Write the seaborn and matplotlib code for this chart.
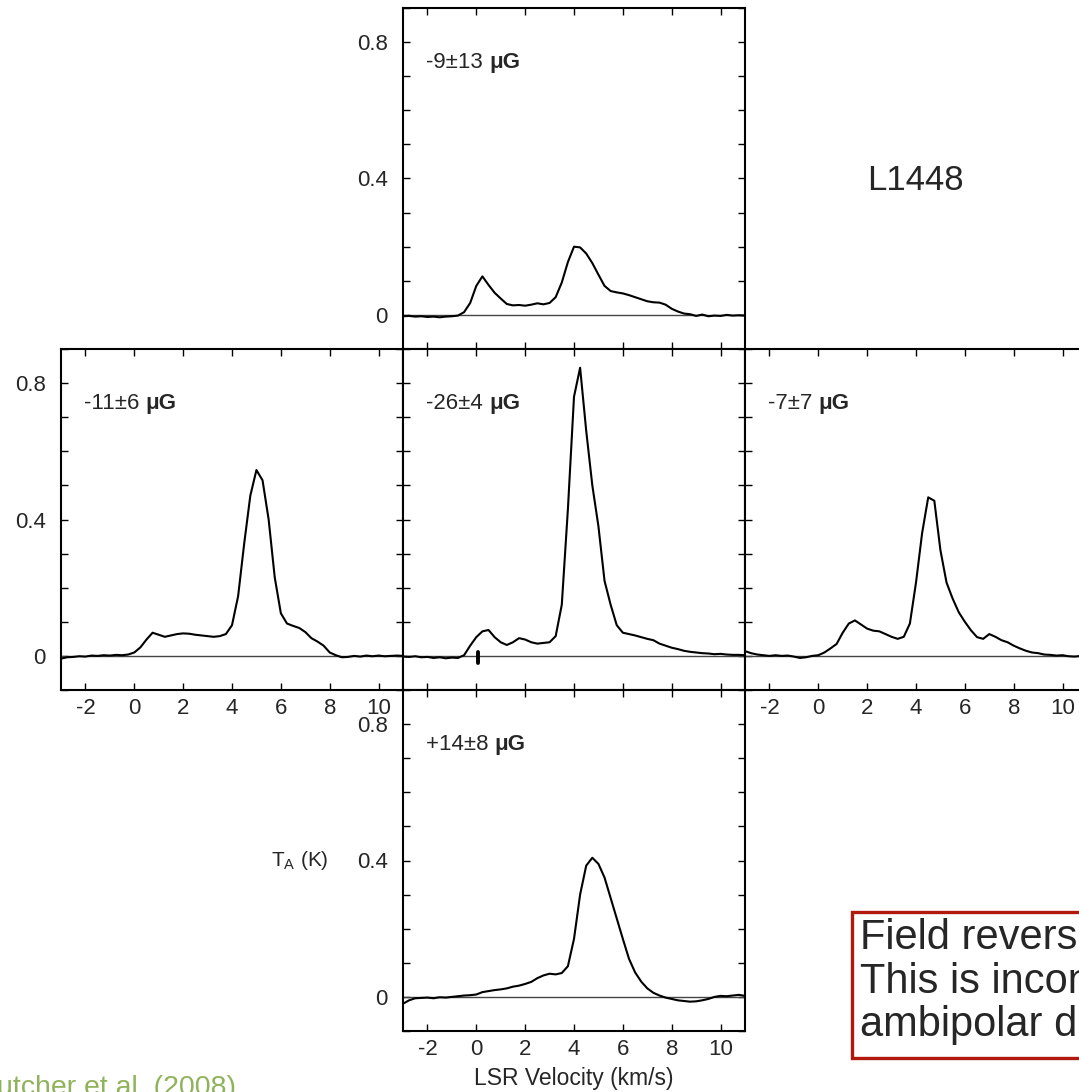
import matplotlib
matplotlib.use("Agg")
import matplotlib.pyplot as plt
from matplotlib.patches import Rectangle
from matplotlib.ticker import MultipleLocator, FixedLocator
import seaborn as sns
import pandas as pd

# ---------------- data ----------------
VELOCITY = [-3.0, -2.75, -2.5, -2.25, -2.0, -1.75, -1.5, -1.25, -1.0, -0.75,
            -0.5, -0.25, 0.0, 0.25, 0.5, 0.75, 1.0, 1.25, 1.5, 1.75,
            2.0, 2.25, 2.5, 2.75, 3.0, 3.25, 3.5, 3.75, 4.0, 4.25,
            4.5, 4.75, 5.0, 5.25, 5.5, 5.75, 6.0, 6.25, 6.5, 6.75,
            7.0, 7.25, 7.5, 7.75, 8.0, 8.25, 8.5, 8.75, 9.0, 9.25,
            9.5, 9.75, 10.0, 10.25, 10.5, 10.75, 11.0]

T_NORTH = [-0.004, -0.003, -0.005, -0.004, -0.006, -0.005, -0.007, -0.005, -0.004, -0.002,
           0.008, 0.035, 0.085, 0.113, 0.088, 0.065, 0.048, 0.032, 0.028, 0.029,
           0.027, 0.030, 0.034, 0.031, 0.035, 0.052, 0.095, 0.155, 0.200, 0.198,
           0.180, 0.152, 0.118, 0.085, 0.070, 0.066, 0.063, 0.058, 0.052, 0.046,
           0.040, 0.037, 0.036, 0.030, 0.018, 0.010, 0.004, 0.002, -0.003, 0.001,
           -0.004, -0.002, -0.003, 0.000, -0.002, -0.001, -0.002]

T_EAST = [-0.008, -0.004, -0.003, -0.001, -0.002, 0.001, 0.000, 0.002, 0.001, 0.003,
          0.002, 0.004, 0.010, 0.025, 0.048, 0.068, 0.062, 0.056, 0.060, 0.064,
          0.066, 0.065, 0.062, 0.060, 0.058, 0.056, 0.058, 0.064, 0.090, 0.175,
          0.330, 0.470, 0.545, 0.515, 0.400, 0.230, 0.125, 0.095, 0.088, 0.082,
          0.070, 0.052, 0.042, 0.030, 0.010, 0.002, -0.004, -0.003, 0.000, -0.002,
          0.001, -0.001, 0.001, -0.001, 0.000, 0.001, 0.000]

T_CENTER = [-0.002, -0.003, -0.001, -0.004, -0.003, -0.006, -0.004, -0.007, -0.005, -0.006,
            0.002, 0.030, 0.055, 0.072, 0.076, 0.055, 0.040, 0.032, 0.040, 0.052,
            0.048, 0.040, 0.036, 0.038, 0.040, 0.058, 0.150, 0.430, 0.760, 0.845,
            0.660, 0.500, 0.380, 0.220, 0.150, 0.090, 0.068, 0.064, 0.060, 0.055,
            0.050, 0.046, 0.036, 0.030, 0.024, 0.020, 0.015, 0.012, 0.010, 0.008,
            0.007, 0.005, 0.006, 0.004, 0.003, 0.003, 0.002]

T_WEST = [0.014, 0.008, 0.004, 0.002, 0.000, 0.002, 0.000, 0.001, -0.002, -0.006,
          -0.004, 0.000, 0.002, 0.010, 0.022, 0.035, 0.068, 0.095, 0.104, 0.092,
          0.080, 0.074, 0.072, 0.064, 0.056, 0.050, 0.056, 0.095, 0.215, 0.360,
          0.465, 0.455, 0.310, 0.215, 0.168, 0.128, 0.100, 0.075, 0.055, 0.050,
          0.064, 0.056, 0.046, 0.040, 0.030, 0.022, 0.015, 0.010, 0.008, 0.004,
          0.003, 0.001, 0.002, -0.001, -0.002, 0.000, -0.001]

T_SOUTH = [-0.020, -0.010, -0.004, -0.003, -0.002, -0.004, -0.001, -0.002, 0.000, 0.002,
           0.004, 0.005, 0.007, 0.014, 0.017, 0.020, 0.022, 0.025, 0.030, 0.033,
           0.038, 0.044, 0.055, 0.063, 0.068, 0.066, 0.070, 0.090, 0.170, 0.300,
           0.385, 0.408, 0.390, 0.350, 0.290, 0.230, 0.170, 0.112, 0.072, 0.045,
           0.025, 0.012, 0.004, -0.002, -0.006, -0.010, -0.012, -0.014, -0.013, -0.010,
           -0.006, 0.000, 0.003, 0.002, 0.004, 0.006, 0.003]

FIELD_VALUE = ["-9\u00b113 ", "-11\u00b16 ", "-26\u00b14 ", "-7\u00b17 ", "+14\u00b18 "]
CENTER_MARK_V = 0.05
CENTER_MARK_T = [-0.022, 0.012]

X_TICKS = [-2, 0, 2, 4, 6, 8, 10]
Y_TICKS = [0, 0.4, 0.8]
Y_TICK_LABELS = ["0", "0.4", "0.8"]

# ---------------- style ----------------
sns.set_style("ticks")
plt.rcParams["font.family"] = ["Liberation Sans", "DejaVu Sans"]
plt.rcParams["axes.unicode_minus"] = False
plt.rcParams["mathtext.fontset"] = "custom"
plt.rcParams["mathtext.rm"] = "Liberation Sans"

W, H = 1079, 1092
fig = plt.figure(figsize=(W / 100, H / 100), dpi=100)
fig.patch.set_facecolor("white")


def add_panel(x0, y0, x1, y1):
    return fig.add_axes([x0 / W, 1 - y1 / H, (x1 - x0) / W, (y1 - y0) / H])


panels = {
    "north": add_panel(403, 8, 745, 349),
    "east": add_panel(61, 349, 403, 690),
    "center": add_panel(403, 349, 745, 690),
    "west": add_panel(745, 349, 1087, 690),
    "south": add_panel(403, 690, 745, 1031),
}
series = {
    "north": T_NORTH, "east": T_EAST, "center": T_CENTER,
    "west": T_WEST, "south": T_SOUTH,
}
labels = {
    "north": FIELD_VALUE[0], "east": FIELD_VALUE[1], "center": FIELD_VALUE[2],
    "west": FIELD_VALUE[3], "south": FIELD_VALUE[4],
}
show_ylabels = {"north": True, "east": True, "center": False, "west": False, "south": True}
show_xlabels = {"north": False, "east": True, "center": False, "west": True, "south": True}

for key, ax in panels.items():
    df = pd.DataFrame({"v": VELOCITY, "T": series[key]})
    ax.axhline(0, color="#444444", lw=1.0, zorder=1)
    sns.lineplot(data=df, x="v", y="T", ax=ax, color="black", lw=1.5, zorder=3)
    ax.set_xlim(-3, 11)
    ax.set_ylim(-0.1, 0.9)
    ax.xaxis.set_major_locator(FixedLocator(X_TICKS))
    ax.yaxis.set_major_locator(FixedLocator(Y_TICKS))
    ax.yaxis.set_minor_locator(MultipleLocator(0.1))
    ax.tick_params(axis="both", which="both", direction="in", top=True, right=True,
                   length=5, width=1.0, color="black", labelsize=16)
    ax.tick_params(axis="y", pad=11)
    ax.tick_params(axis="x", pad=6)
    if show_ylabels[key]:
        ax.set_yticklabels(Y_TICK_LABELS)
    else:
        ax.set_yticklabels([])
    if not show_xlabels[key]:
        ax.set_xticklabels([])
    ax.set_xlabel("")
    ax.set_ylabel("")
    for sp in ax.spines.values():
        sp.set_visible(True)
        sp.set_linewidth(1.5)
        sp.set_color("black")
    t = ax.text(-2.05, 0.74, labels[key], fontsize=16, va="center", ha="left")
    ax.annotate("\u03bcG", xy=(1, 0.5), xycoords=t, va="center", ha="left",
                fontsize=16, fontweight="bold")

panels["center"].plot([CENTER_MARK_V, CENTER_MARK_V], CENTER_MARK_T,
                      color="black", lw=2.8, zorder=4)

panels["south"].set_xlabel("LSR Velocity (km/s)", fontsize=16.5, labelpad=5)

fig.text(300 / W, 1 - 860 / H, r"T$_\mathrm{A}$ (K)", fontsize=15,
         ha="center", va="center")

fig.text(915 / W, 1 - 181 / H, "L1448", fontsize=25, ha="center", va="center")

fig.text(236 / W, -3 / H, "Crutcher et al. (2008)", fontsize=20.5,
         color="#8fb35a", ha="right", va="baseline")

box = Rectangle((852 / W, 1 - 1058 / H), (1300 - 852) / W, (1058 - 912) / H,
                transform=fig.transFigure, facecolor="white",
                edgecolor="#b0190c", lw=2.4, zorder=5)
fig.add_artist(box)
fig.text(860 / W, 1 - 918 / H,
         "Field reverses direction!\nThis is inconsistent with\nambipolar diffusion.",
         fontsize=30, ha="left", va="top", linespacing=1.12, zorder=6)

fig.savefig("out.png", dpi=100)
